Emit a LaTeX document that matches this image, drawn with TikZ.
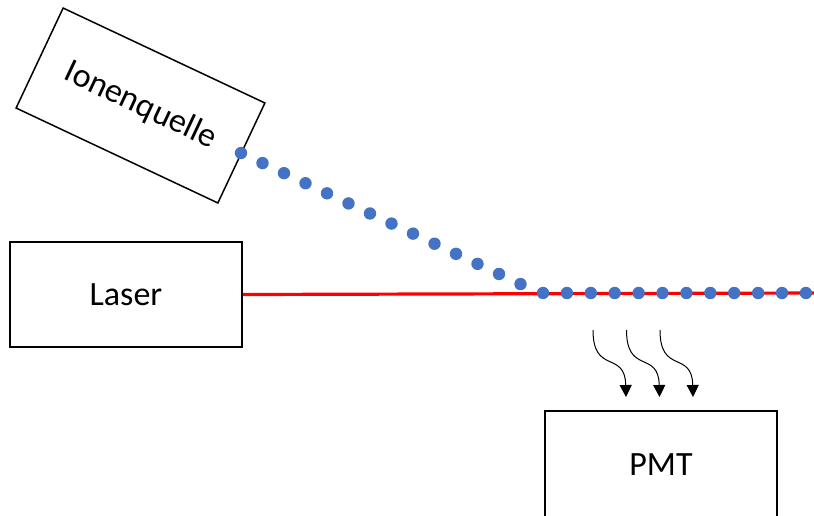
\documentclass[tikz,border=0pt]{standalone}
\usepackage{fontspec}
\setmainfont{Carlito}
\usetikzlibrary{arrows.meta}
\definecolor{iondot}{HTML}{4472C4}
\begin{document}
\begin{tikzpicture}[x=1pt,y=-1pt,
  device/.style={draw=black,line width=1.5pt,fill=white,inner sep=0pt,
    font=\fontsize{34}{40}\selectfont},
  ion/.style={fill=iondot,draw=none},
  beam/.style={draw=red,line width=3.2pt},
  photon/.style={draw=black,line width=1pt,-{Triangle[width=12pt,length=12pt]}}]
\useasboundingbox (0,0) rectangle (814,515);
\clip (0,0) rectangle (814,515);

% ion source, tilted
\node[device,minimum width=223pt,minimum height=110.5pt,rotate=-25.2]
  (source) at (140.5,105.5) {Ionenquelle};
% laser
\node[device,minimum width=232pt,minimum height=105pt] (laser) at (126,294.5) {Laser};
% photomultiplier (runs off the lower edge)
\node[device,minimum width=232pt,minimum height=108pt] (pmt) at (661,465) {PMT};

% laser beam
\coordinate (beamend) at (814,293);
\draw[beam] (laser.east) -- (beamend);

% ions leaving the source
\foreach \i in {0,...,13}
  \fill[ion] (241+21.5*\i,153+10.08*\i) circle (6.2pt);
% ions travelling along the beam
\foreach \i in {0,...,11}
  \fill[ion] (543+23.9*\i,293) circle (6.2pt);

% fluorescence photons towards the PMT
\foreach \dx in {0,33.5,67}
  \draw[photon] (593+\dx,330) .. controls (593+\dx,375) and (625+\dx,350) .. (626+\dx,397);
\end{tikzpicture}
\end{document}
